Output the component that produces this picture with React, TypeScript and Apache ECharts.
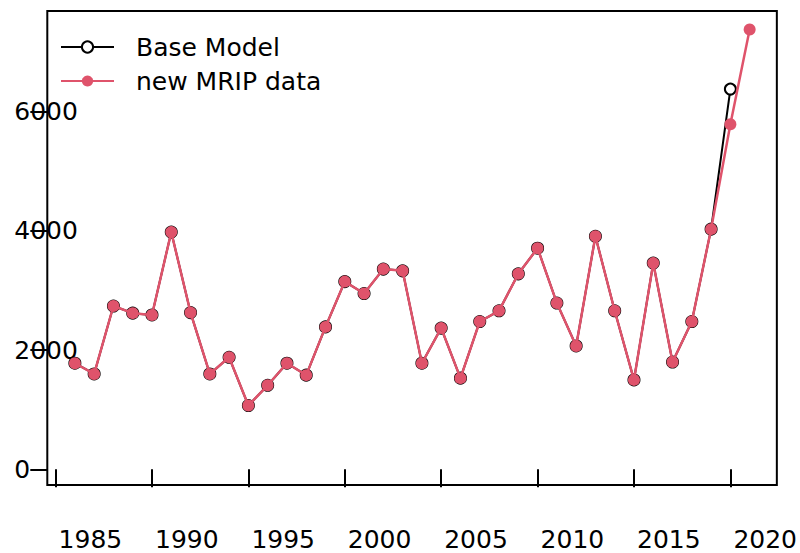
import React, { useEffect, useRef } from "react";
import * as echarts from "echarts";

const years: number[] = [
  1986, 1987, 1988, 1989, 1990, 1991, 1992, 1993, 1994, 1995, 1996, 1997,
  1998, 1999, 2000, 2001, 2002, 2003, 2004, 2005, 2006, 2007, 2008, 2009,
  2010, 2011, 2012, 2013, 2014, 2015, 2016, 2017, 2018, 2019, 2020, 2021,
];

const baseModel: number[] = [
  1780, 1600, 2740, 2620, 2590, 3980, 2630, 1600, 1880, 1070, 1410, 1780,
  1580, 2390, 3150, 2950, 3360, 3330, 1780, 2370, 1530, 2480, 2660, 3280,
  3710, 2790, 2070, 3910, 2660, 1500, 3460, 1800, 2480, 4030, 6380,
];

const newMrip: number[] = [
  1780, 1600, 2740, 2620, 2590, 3980, 2630, 1600, 1880, 1070, 1410, 1780,
  1580, 2390, 3150, 2950, 3360, 3330, 1780, 2370, 1530, 2480, 2660, 3280,
  3710, 2790, 2070, 3910, 2660, 1500, 3460, 1800, 2480, 4030, 5790, 7380,
];

const xTicks: number[] = [1985, 1990, 1995, 2000, 2005, 2010, 2015, 2020];
const yTicks: number[] = [0, 2000, 4000, 6000];

const seriesNames = ["Base Model", "new MRIP data"];

const FONT = "DejaVu Sans";
const PINK = "#DF536B";

export default function App() {
  const ref = useRef<HTMLDivElement>(null);

  useEffect(() => {
    if (!ref.current) return;
    const chart = echarts.init(ref.current, null, { renderer: "svg" });
    const option: echarts.EChartsOption = {
      animation: false,
      backgroundColor: "#ffffff",
      grid: {
        left: 47.3,
        top: 11,
        right: 18.3,
        bottom: 68,
        show: true,
        borderColor: "#000",
        borderWidth: 2,
        backgroundColor: "transparent",
      },
      legend: {
        orient: "vertical",
        left: 55,
        top: 29.5,
        itemWidth: 53,
        itemHeight: 14,
        itemGap: 9,
        data: seriesNames,
        textStyle: {
          fontFamily: FONT,
          fontSize: 25,
          lineHeight: 25,
          color: "#000",
          padding: [0, 0, 0, 17],
        },
      },
      xAxis: {
        type: "value",
        min: 1984.57,
        max: 2022.41,
        axisLine: { show: false },
        splitLine: { show: false },
        axisTick: {
          show: true,
          inside: false,
          length: 18,
          customValues: xTicks,
          lineStyle: { color: "#000", width: 2 },
        },
        axisLabel: {
          customValues: xTicks,
          align: "left",
          verticalAlign: "top",
          margin: 42,
          padding: [0, 0, 0, 3],
          fontFamily: FONT,
          fontSize: 25,
          color: "#000",
          formatter: (v: number) => String(Math.round(v)),
        },
      },
      yAxis: {
        type: "value",
        min: -263,
        max: 7690,
        axisLine: { show: false },
        splitLine: { show: false },
        axisTick: {
          show: true,
          inside: false,
          length: 17,
          customValues: yTicks,
          lineStyle: { color: "#000", width: 2 },
        },
        axisLabel: {
          customValues: yTicks,
          align: "left",
          verticalAlign: "middle",
          margin: 33,
          fontFamily: FONT,
          fontSize: 25,
          color: "#000",
          formatter: (v: number) => String(Math.round(v)),
        },
      },
      series: [
        {
          name: seriesNames[0],
          type: "line",
          data: baseModel.map((v, i) => [years[i], v]),
          symbol: "emptyCircle",
          symbolSize: 11,
          z: 2,
          lineStyle: { color: "#000", width: 2 },
          itemStyle: { color: "#000", borderColor: "#000", borderWidth: 1.2 },
        },
        {
          name: seriesNames[1],
          type: "line",
          data: newMrip.map((v, i) => [years[i], v]),
          symbol: "circle",
          symbolSize: 12,
          z: 3,
          lineStyle: { color: PINK, width: 2.5 },
          itemStyle: { color: PINK },
        },
      ],
    };
    chart.setOption(option);
    return () => chart.dispose();
  }, []);

  return (
    <div
      ref={ref}
      style={{ position: "fixed", left: 0, top: 0, width: 800, height: 553 }}
    />
  );
}
